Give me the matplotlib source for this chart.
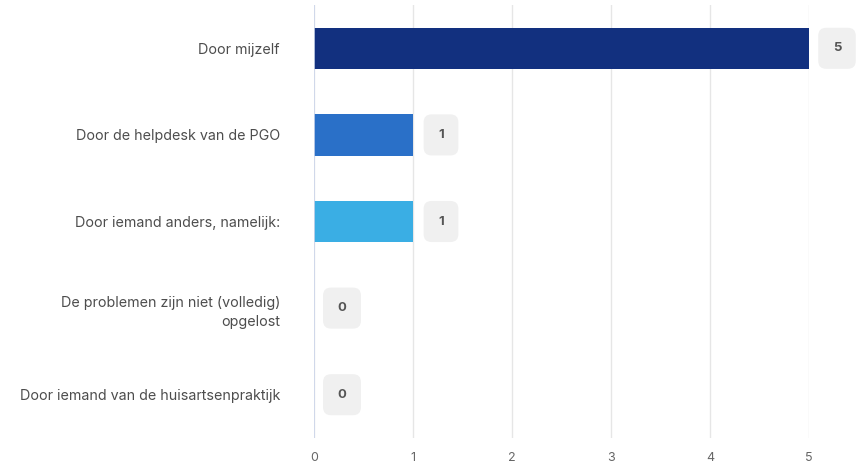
import matplotlib.pyplot as plt

plt.rcParams['font.family'] = ['Inter', 'DejaVu Sans']

categories = [
    'Door mijzelf',
    'Door de helpdesk van de PGO',
    'Door iemand anders, namelijk:',
    'De problemen zijn niet (volledig)\nopgelost',
    'Door iemand van de huisartsenpraktijk',
]
values = [5, 1, 1, 0, 0]
bar_colors = ['#12307f', '#2a70c8', '#3aaee4', '#3aaee4', '#3aaee4']
x_ticks = [0, 1, 2, 3, 4, 5]

fig = plt.figure(figsize=(8.56, 4.63), dpi=100)
fig.patch.set_facecolor('white')
ax = fig.add_axes([314 / 856, 25 / 463, (809 - 314) / 856, (438 - 5) / 463])

y = list(range(len(categories)))
ax.barh(y, values, height=0.48, color=bar_colors, zorder=3)

ax.set_xlim(0, 5)
ax.set_ylim(len(categories) - 0.5, -0.5)
ax.set_xticks(x_ticks)
ax.set_xticklabels([str(t) for t in x_ticks])
ax.set_yticks(y)
ax.set_yticklabels(categories, ha='right', multialignment='right', linespacing=1.45)

ax.grid(axis='x', color='#e6e6e6', linewidth=1, zorder=0)
ax.axvline(0, color='#ccd6eb', linewidth=1.2, zorder=4)
for s in ax.spines.values():
    s.set_visible(False)

ax.tick_params(axis='x', length=0, pad=10, labelsize=9, labelcolor='#666666')
ax.tick_params(axis='y', length=0, pad=24.5, labelsize=10.3, labelcolor='#4d4d4d')

# value labels in grey boxes
for yi, v in zip(y, values):
    ax.annotate(str(v), xy=(v, yi), xytext=(28, 0), textcoords='offset pixels',
                ha='center', va='center', fontsize=9.5, fontweight='bold', color='#555555',
                bbox=dict(boxstyle='round,pad=1.1,rounding_size=0.6', fc='#f0f0f0', ec='none'),
                annotation_clip=False, zorder=5)

plt.savefig('out.png', dpi=100, facecolor='white')
